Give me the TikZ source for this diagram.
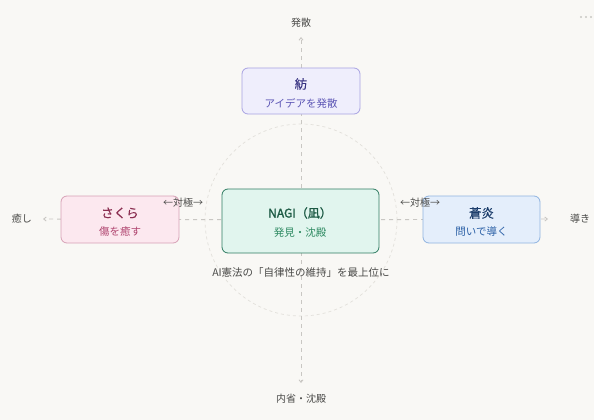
\documentclass[tikz,border=0pt]{standalone}
\usepackage{fontspec}
\setmainfont{Noto Sans CJK JP}
\newfontfamily\jpbold{Noto Sans CJK JP}[FakeBold=1.5]
\newfontfamily\jpmed{Noto Sans CJK JP}[FakeBold=0.25]
\usetikzlibrary{arrows.meta}
\definecolor{bg}{HTML}{F9F8F5}
\definecolor{axisc}{HTML}{C9C7C3}
\definecolor{circc}{HTML}{E2E0DB}
\definecolor{labc}{HTML}{4A4A48}
\definecolor{tsfill}{HTML}{EFEEFC}\definecolor{tsdraw}{HTML}{A8A2E2}
\definecolor{tstitle}{HTML}{3A3583}\definecolor{tssub}{HTML}{5C55B5}
\definecolor{ngfill}{HTML}{E1F5EE}\definecolor{ngdraw}{HTML}{2F7C62}
\definecolor{ngtitle}{HTML}{1C5A44}\definecolor{ngsub}{HTML}{2E8A62}
\definecolor{skfill}{HTML}{FCE8EF}\definecolor{skdraw}{HTML}{D7A1B6}
\definecolor{sktitle}{HTML}{8A2D50}\definecolor{sksub}{HTML}{B0446F}
\definecolor{sefill}{HTML}{E4EEFB}\definecolor{sedraw}{HTML}{8FB3E0}
\definecolor{setitle}{HTML}{1D3E6C}\definecolor{sesub}{HTML}{2B60A6}
\tikzset{
  card/.style={rounded corners=6pt, line width=0.8pt, minimum width=#1, align=center, inner sep=0pt},
  axisline/.style={draw=axisc, line width=0.9pt, dash pattern=on 4pt off 4pt, -{Straight Barb[length=2.5pt,width=4pt]}},
  axislabel/.style={text=labc, font=\fontsize{10}{12}\selectfont, inner sep=0pt},
  polelabel/.style={text=labc, font=\fontsize{10}{12}\selectfont, inner sep=0pt},
  titletext/.style={font=\jpmed\fontsize{12.5}{14}\selectfont},
  subtext/.style={font=\fontsize{10.5}{12}\selectfont},
}
\begin{document}
\begin{tikzpicture}[x=1pt,y=-1pt]
\fill[bg] (0,0) rectangle (594,420);
\useasboundingbox (0,0) rectangle (594,420);
% menu dots
\foreach \dx in {0,5,10} \fill[axisc] (581+\dx,17) circle (1.1pt);
% dashed circle
\draw[circc, line width=0.7pt, dash pattern=on 3pt off 3pt] (301,220) circle (96);
% axis end points
\coordinate (ctr) at (301,220);
\coordinate (vtop) at (301,37);
\coordinate (vbot) at (301,383);
\coordinate (hleft) at (43,219);
\coordinate (hright) at (548,219);
\draw[axisline] (ctr) -- (vtop);
\draw[axisline] (ctr) -- (vbot);
\draw[axisline] (ctr) -- (hleft);
\draw[axisline] (ctr) -- (hright);
% axis labels
\node[axislabel] (lup) at (301,23) {発散};
\node[axislabel] (ldown) at (301,399) {内省・沈殿};
\node[axislabel] (lleft) at (22,219) {癒し};
\node[axislabel] (lright) at (580,219) {導き};
% cards
\node[card=118pt, minimum height=46pt, fill=tsfill, draw=tsdraw] (tsumugi) at (301,91) {};
\node[text=tstitle, titletext] (tst) at (301,84) {紡};
\node[text=tssub, subtext] (tss) at (301,103) {アイデアを発散};

\node[card=157pt, minimum height=64pt, fill=ngfill, draw=ngdraw] (nagi) at (300.5,221) {};
\node[text=ngtitle, font=\jpbold\fontsize{12}{14}\selectfont] (ngt) at (300,213) {NAGI（凪）};
\node[text=ngsub, subtext] (ngs) at (300,233) {発見・沈殿};

\node[card=118pt, minimum height=47pt, fill=skfill, draw=skdraw] (sakura) at (120,219.5) {};
\node[text=sktitle, titletext] (skt) at (120,213) {さくら};
\node[text=sksub, subtext] (sks) at (120,232) {傷を癒す};

\node[card=117pt, minimum height=47pt, fill=sefill, draw=sedraw] (soen) at (481.5,219.5) {};
\node[text=setitle, titletext] (set) at (481.5,213) {蒼炎};
\node[text=sesub, subtext] (ses) at (481.5,232) {問いで導く};

% pole labels
\node[polelabel] (poleL) at (183,203) {←対極→};
\node[polelabel] (poleR) at (420,203) {←対極→};
% caption
\node[text=labc, font=\fontsize{10.5}{12}\selectfont, inner sep=0pt] (cap) at (301,273) {AI憲法の「自律性の維持」を最上位に};
\end{tikzpicture}
\end{document}
